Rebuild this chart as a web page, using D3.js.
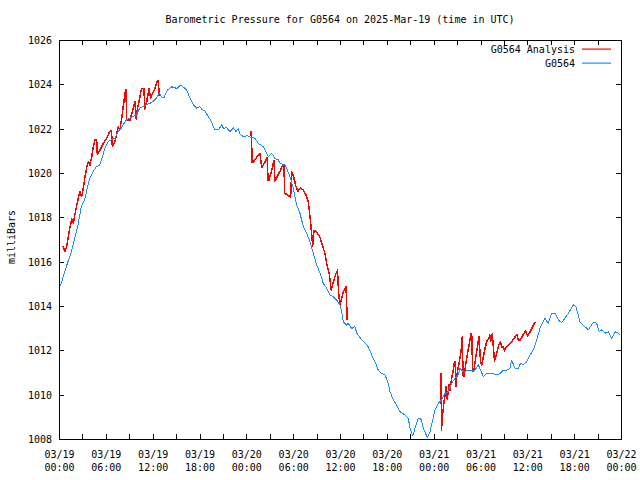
<!DOCTYPE html>
<html><head><meta charset="utf-8">
<script src="https://cdn.jsdelivr.net/npm/d3@7"></script>
<style>
body{margin:0;background:#fff}
text{font-family:"DejaVu Sans Mono","Liberation Mono",monospace;font-size:10px;fill:#000}
</style>
</head><body>
<svg id="chart" width="640" height="480"></svg>
<script>
// ---- data (hours after 2025-03-19 00:00 UTC, pressure in mbar) ----
const titleText = "Barometric Pressure for G0564 on 2025-Mar-19 (time in UTC)";
const yLabel = "milliBars";
const seriesNames = ["G0564 Analysis", "G0564"];
const seriesColors = ["#ff0000", "#1a8cff"];
const yTicks = [1008,1010,1012,1014,1016,1018,1020,1022,1024,1026];

const observed = [
[0.09,1014.87],[0.29,1015.02],[0.73,1015.55],[1.15,1016.00],[1.58,1016.45],[2.01,1017.05],
[2.43,1017.65],[2.86,1018.48],[3.29,1018.78],[3.71,1019.46],[3.93,1019.76],[4.36,1020.06],
[4.78,1020.28],[5.21,1020.36],[5.64,1020.81],[5.85,1021.11],[6.28,1021.41],[6.70,1021.49],
[7.14,1021.57],[7.56,1021.86],[7.98,1022.02],[8.20,1022.17],[8.62,1022.39],[9.06,1022.47],
[9.48,1022.54],[9.90,1022.62],[10.34,1022.92],[10.76,1022.99],[11.18,1023.07],[11.62,1023.14],
[12.04,1023.22],[12.46,1023.37],[12.68,1023.52],[12.90,1023.60],[13.11,1023.44],[13.45,1023.40],
[13.87,1023.74],[14.44,1023.89],[14.86,1023.85],[15.08,1023.79],[15.59,1023.97],[15.89,1023.89],
[16.36,1023.74],[16.78,1023.37],[17.21,1023.07],[17.64,1022.92],[18.06,1022.99],[18.28,1022.87],
[18.70,1022.80],[19.13,1022.54],[19.56,1022.31],[19.77,1022.09],[19.98,1021.94],[20.41,1021.94],
[20.84,1022.17],[21.05,1022.02],[21.48,1022.04],[21.91,1021.86],[22.33,1022.04],[22.68,1021.86],
[22.97,1022.02],[23.19,1021.75],[23.61,1021.64],[24.12,1021.68],[24.56,1021.61],[25.11,1021.57],
[25.53,1021.34],[26.17,1021.19],[26.39,1021.04],[26.81,1020.74],[27.25,1020.89],[27.67,1020.66],
[28.09,1020.59],[28.31,1020.44],[28.95,1020.36],[29.17,1020.21],[29.59,1019.83],[30.02,1019.31],
[30.45,1018.56],[30.87,1018.18],[31.30,1017.58],[31.73,1017.28],[32.15,1016.90],[32.58,1016.38],
[33.01,1015.85],[33.44,1015.48],[33.86,1015.02],[34.29,1014.80],[34.72,1014.50],[35.14,1014.42],
[35.58,1014.27],[36.00,1014.05],[36.22,1013.74],[36.42,1013.29],[36.64,1013.22],[36.86,1013.14],
[37.06,1013.22],[37.50,1012.99],[37.92,1013.07],[38.14,1012.77],[38.78,1012.47],[39.20,1012.34],
[39.62,1012.16],[40.06,1011.79],[40.48,1011.49],[40.90,1011.11],[41.34,1010.96],[41.76,1010.89],
[42.19,1010.51],[42.40,1010.13],[42.83,1009.76],[43.26,1009.53],[43.68,1009.23],[44.33,1009.08],
[44.75,1008.93],[44.97,1008.48],[45.31,1008.14],[45.61,1008.48],[46.03,1008.93],[46.34,1008.93],
[46.67,1008.48],[47.18,1008.08],[47.53,1008.33],[48.17,1009.31],[48.59,1009.61],[49.03,1009.76],
[49.45,1010.06],[49.87,1010.13],[50.31,1010.51],[50.73,1010.74],[51.15,1010.89],[51.37,1011.19],
[51.80,1011.04],[52.66,1011.11],[53.30,1011.11],[53.73,1011.34],[54.37,1010.81],[54.79,1010.96],
[55.43,1010.96],[56.07,1010.89],[56.50,1010.96],[56.92,1011.11],[57.35,1011.11],[57.78,1011.19],
[57.99,1011.56],[58.42,1011.19],[58.84,1011.19],[59.15,1011.42],[59.48,1011.34],[59.92,1011.49],
[60.34,1011.79],[60.76,1012.02],[61.20,1012.47],[61.62,1012.99],[62.04,1013.29],[62.26,1013.45],
[62.68,1013.22],[63.12,1013.67],[63.54,1013.67],[63.97,1013.37],[64.40,1013.25],[64.82,1013.45],
[65.25,1013.67],[65.89,1014.05],[66.23,1013.97],[66.75,1013.29],[67.17,1013.14],[67.81,1012.92],
[68.45,1013.26],[68.88,1013.22],[69.22,1012.84],[69.53,1012.92],[69.95,1012.77],[70.37,1012.84],
[70.81,1012.54],[71.23,1012.84],[71.65,1012.77],[71.87,1012.69]
];

const analysisA = [
[0.51,1016.71],[0.77,1016.45],[0.96,1016.66],[1.15,1017.05],[1.41,1017.56],[1.63,1017.92],
[1.83,1017.73],[2.05,1018.15],[2.47,1018.87],[2.69,1019.16],[2.91,1018.93],[3.07,1019.23],
[3.33,1019.82],[3.55,1020.27],[3.75,1020.51],[3.97,1020.36],[4.19,1020.72],[4.39,1021.17],
[4.61,1021.49],[4.83,1021.49],[4.91,1020.86],[5.25,1021.04],[5.68,1021.34],[6.11,1021.57],
[6.53,1021.89],[6.73,1021.89],[6.83,1021.19],[7.17,1021.41],[7.60,1022.08],[7.81,1021.94],
[8.03,1022.47],[8.20,1022.93],[8.46,1023.60],[8.58,1023.78],[8.67,1022.39],[9.10,1022.39],
[9.52,1022.92],[9.74,1023.22],[9.90,1022.44],[10.06,1022.93],[10.29,1023.29],[10.57,1023.82],
[10.89,1023.82],[10.98,1022.89],[11.24,1023.22],[11.53,1023.82],[11.75,1023.37],[11.98,1023.60],
[12.30,1023.82],[12.59,1024.15],[12.72,1024.17],[12.85,1023.47]
];
const analysisB = [
[24.60,1021.89],[24.69,1021.17],[24.76,1020.46],[25.11,1020.59],[25.53,1020.81],[25.75,1020.86],
[25.97,1020.25],[26.26,1020.41],[26.69,1020.71],[26.77,1019.68],[26.90,1019.68],[27.16,1020.00],
[27.54,1020.56],[27.67,1019.64],[27.99,1019.86],[28.40,1020.14],[28.66,1020.36],[28.82,1020.36],
[28.91,1019.10],[29.25,1019.01],[29.68,1018.92],[29.81,1020.06],[30.04,1019.86],[30.36,1019.38],
[30.62,1019.19],[30.94,1019.32],[31.30,1019.23],[31.64,1019.01],[31.94,1018.71],[32.09,1018.24],
[32.28,1017.61],[32.50,1016.71],[32.67,1017.41],[33.01,1017.34],[33.44,1017.09],[33.78,1016.71],
[34.08,1016.35],[34.33,1015.85],[34.63,1015.44],[34.87,1014.72],[35.10,1015.02],[35.42,1015.40],
[35.68,1015.62],[35.81,1014.63],[36.00,1014.05],[36.42,1014.65],[36.77,1014.88],[36.93,1013.37]
];
const analysisC = [
[48.75,1010.93],[48.94,1010.93],[49.00,1008.41],[49.16,1009.13],[49.32,1009.67],[49.45,1009.94],
[49.58,1010.35],[49.74,1009.80],[49.96,1010.44],[50.09,1010.21],[50.31,1010.75],[50.47,1011.02],
[50.67,1011.49],[50.77,1011.49],[50.83,1010.36],[51.03,1011.02],[51.24,1011.38],[51.44,1011.79],
[51.59,1012.24],[51.67,1012.62],[51.76,1010.89],[51.92,1010.81],[52.10,1011.38],[52.31,1011.79],
[52.53,1012.24],[52.78,1012.77],[52.87,1012.77],[53.00,1011.04],[53.16,1011.11],[53.38,1011.65],
[53.59,1012.13],[53.81,1012.60],[54.02,1011.42],[54.15,1011.34],[54.36,1011.70],[54.58,1012.08],
[54.79,1012.39],[55.09,1012.56],[55.21,1012.69],[55.30,1012.39],[55.51,1012.74],[55.79,1011.52],
[56.05,1011.83],[56.30,1012.20],[56.56,1012.39],[56.75,1012.13],[56.95,1012.17],[57.07,1011.97],
[57.20,1012.11],[57.58,1012.24],[57.97,1012.38],[58.42,1012.60],[58.68,1012.71],[58.84,1012.47],
[59.12,1012.47],[59.44,1012.69],[59.76,1012.89],[60.02,1012.65],[60.34,1012.83],[60.66,1013.05],
[60.98,1013.28]
];

// ---- layout ----
const W = 640, H = 480;
const m = {left:59, top:40, right:19, bottom:41};
const iw = W - m.left - m.right, ih = H - m.top - m.bottom;
const t0 = Date.UTC(2025,2,19,0,0), t1 = Date.UTC(2025,2,22,0,0);
const toDate = h => new Date(t0 + h*3600e3);

const svg = d3.select("#chart");
const g = svg.append("g").attr("transform",`translate(${m.left},${m.top})`);

const x = d3.scaleUtc().domain([new Date(t0), new Date(t1)]).range([0, iw]);
const y = d3.scaleLinear().domain([1008,1026]).range([ih, 0]);

const xTickVals = d3.utcHour.every(3).range(new Date(t0), new Date(t1 + 1));
const fmtD = d3.utcFormat("%m/%d"), fmtT = d3.utcFormat("%H:%M");

// bottom axis
const xb = g.append("g").attr("transform",`translate(0,${ih})`)
  .call(d3.axisBottom(x).tickValues(xTickVals).tickSize(-5).tickPadding(0)
    .tickFormat(d => d.getUTCHours() % 6 === 0 ? fmtD(d) + "|" + fmtT(d) : ""));
xb.select(".domain").remove();
xb.selectAll(".tick line").attr("stroke","#000").attr("shape-rendering","crispEdges");
xb.selectAll(".tick text").each(function(){
  const s = d3.select(this), parts = s.text().split("|");
  s.text(null).attr("dy", null).attr("y", 0);
  if (parts.length < 2) return;
  s.append("tspan").attr("x",0).attr("y",18.5).text(parts[0]);
  s.append("tspan").attr("x",0).attr("y",32).text(parts[1]);
});
// top axis (mirror)
const xt = g.append("g").call(d3.axisTop(x).tickValues(xTickVals).tickSize(-5).tickFormat(""));
xt.select(".domain").remove();
xt.selectAll(".tick line").attr("stroke","#000").attr("shape-rendering","crispEdges");

// left axis
const yl = g.append("g").call(d3.axisLeft(y).tickValues(yTicks).tickSize(-5).tickPadding(7)
  .tickFormat(d3.format("d")));
yl.select(".domain").remove();
yl.selectAll(".tick line").attr("stroke","#000").attr("shape-rendering","crispEdges");
yl.selectAll(".tick text").attr("dy","0.35em");
// right axis (mirror)
const yr = g.append("g").attr("transform",`translate(${iw},0)`)
  .call(d3.axisRight(y).tickValues(yTicks).tickSize(-5).tickFormat(""));
yr.select(".domain").remove();
yr.selectAll(".tick line").attr("stroke","#000").attr("shape-rendering","crispEdges");

svg.selectAll(".tick text").style("font-family",'"DejaVu Sans Mono","Liberation Mono",monospace').style("font-size","10px");

// lines
const line = d3.line().x(d => x(toDate(d[0]))).y(d => y(d[1]));
const lineG = g.append("g");
[analysisA, analysisB, analysisC].forEach(seg => {
  lineG.append("path").datum(seg).attr("d", line)
    .attr("fill","none").attr("stroke",seriesColors[0]).attr("stroke-width",1.5)
    .attr("stroke-linejoin","round").attr("shape-rendering","crispEdges");
});
lineG.append("path").datum(observed).attr("d", line)
  .attr("fill","none").attr("stroke",seriesColors[1]).attr("stroke-width",1)
  .attr("stroke-linejoin","round").attr("shape-rendering","crispEdges");

// border
g.append("rect").attr("x",0).attr("y",0).attr("width",iw).attr("height",ih)
  .attr("fill","none").attr("stroke","#000").attr("stroke-width",1)
  .attr("shape-rendering","crispEdges");

// title
svg.append("text").attr("x", m.left + iw/2).attr("y", 23).attr("text-anchor","middle").text(titleText);
// y label
svg.append("text").attr("transform","translate(14.5,237) rotate(-90)").attr("text-anchor","middle").text(yLabel);

// legend
seriesNames.forEach((name, i) => {
  const cy = 49 + i*14;
  svg.append("text").attr("x",575).attr("y",cy+3.6).attr("text-anchor","end").text(name);
  svg.append("rect").attr("x",582).attr("y",cy - 0.5).attr("width",29).attr("height",1.2)
    .attr("fill",seriesColors[i]);
});
</script>
</body></html>
